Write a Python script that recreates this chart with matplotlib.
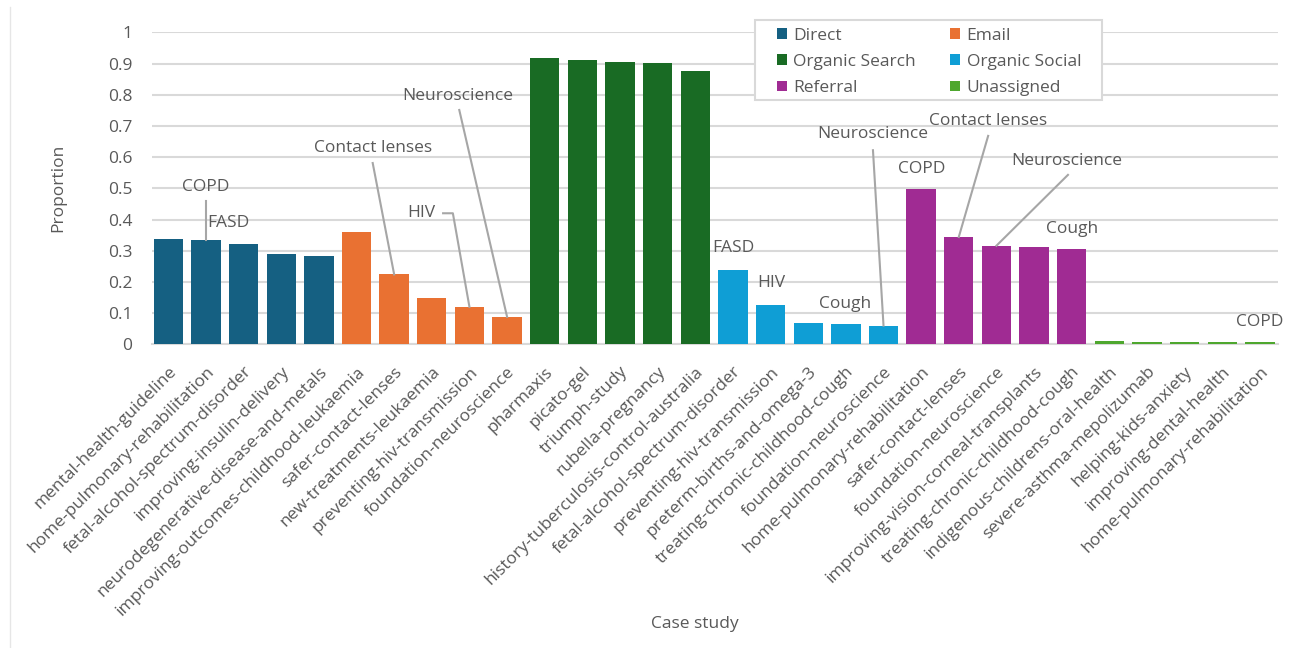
import matplotlib
matplotlib.use("Agg")
import matplotlib.pyplot as plt
from matplotlib.patches import Patch, Rectangle
from matplotlib.lines import Line2D

plt.rcParams['font.family'] = ['Open Sans', 'DejaVu Sans']

channels = ["Direct", "Email", "Organic Search", "Organic Social", "Referral", "Unassigned"]
colors = ["#156082", "#E97132", "#196B24", "#0F9ED5", "#A02B93", "#4EA72E"]

case_studies = [
    "mental-health-guideline", "home-pulmonary-rehabilitation", "fetal-alcohol-spectrum-disorder",
    "improving-insulin-delivery", "neurodegenerative-disease-and-metals",
    "improving-outcomes-childhood-leukaemia", "safer-contact-lenses", "new-treatments-leukaemia",
    "preventing-hiv-transmission", "foundation-neuroscience",
    "pharmaxis", "picato-gel", "triumph-study", "rubella-pregnancy",
    "history-tuberculosis-control-australia",
    "fetal-alcohol-spectrum-disorder", "preventing-hiv-transmission", "preterm-births-and-omega-3",
    "treating-chronic-childhood-cough", "foundation-neuroscience",
    "home-pulmonary-rehabilitation", "safer-contact-lenses", "foundation-neuroscience",
    "improving-vision-corneal-transplants", "treating-chronic-childhood-cough",
    "indigenous-childrens-oral-health", "severe-asthma-mepolizumab", "helping-kids-anxiety",
    "improving-dental-health", "home-pulmonary-rehabilitation",
]

direct = [0.337, 0.333, 0.322, 0.290, 0.284]
email = [0.361, 0.224, 0.147, 0.120, 0.088]
organic_search = [0.918, 0.912, 0.905, 0.901, 0.877]
organic_social = [0.238, 0.126, 0.067, 0.064, 0.060]
referral = [0.499, 0.344, 0.316, 0.313, 0.305]
unassigned = [0.010, 0.007, 0.007, 0.007, 0.007]

series = [direct, email, organic_search, organic_social, referral, unassigned]

# annotations: (bar index, label, text x, text y, leader path or None)
annotations = [
    (1, "COPD", 1.0, 0.505, [(1.0, 0.458)]),
    (2, "FASD", 1.59, 0.389, None),
    (6, "Contact lenses", 5.44, 0.630, [(5.43, 0.581)]),
    (8, "HIV", 6.71, 0.42, [(7.30, 0.42), (7.56, 0.42)]),
    (9, "Neuroscience", 7.70, 0.797, [(7.73, 0.751)]),
    (15, "FASD", 15.0, 0.310, None),
    (16, "HIV", 16.01, 0.198, None),
    (18, "Cough", 17.98, 0.130, None),
    (19, "Neuroscience", 18.72, 0.675, [(18.72, 0.622)]),
    (20, "COPD", 20.02, 0.563, None),
    (21, "Contact lenses", 21.78, 0.717, [(21.78, 0.668)]),
    (22, "Neuroscience", 23.88, 0.588, [(23.9, 0.543)]),
    (24, "Cough", 24.0, 0.371, None),
    (29, "COPD", 29.0, 0.073, None),
]

W, H = 1290, 648
fig = plt.figure(figsize=(W / 100, H / 100), dpi=100)
ax = fig.add_axes([152 / W, 1 - 344.3 / H, (1278 - 152) / W, (344.3 - 32.3) / H])

text_col = "#595959"
grid_col = "#d9d9d9"
fs = 12.5

values = []
bar_colors = []
for vals, c in zip(series, colors):
    values.extend(vals)
    bar_colors.extend([c] * len(vals))
xs = list(range(len(values)))
ax.bar(xs, values, width=0.78, color=bar_colors, zorder=3)

ax.set_xlim(-0.433, 29.48)
ax.set_ylim(0, 1.0)
ax.set_yticks([0, 0.1, 0.2, 0.3, 0.4, 0.5, 0.6, 0.7, 0.8, 0.9, 1.0])
ax.set_yticklabels(["0", "0.1", "0.2", "0.3", "0.4", "0.5", "0.6", "0.7", "0.8", "0.9", "1"])
ax.yaxis.grid(True, color=grid_col, linewidth=1.5, zorder=0)
ax.set_axisbelow(True)
for s in ["top", "right", "left"]:
    ax.spines[s].set_visible(False)
ax.spines["bottom"].set_color(grid_col)
ax.spines["bottom"].set_linewidth(1.5)
ax.tick_params(axis="both", length=0, colors=text_col, labelsize=fs)
ax.tick_params(axis="y", pad=14)
ax.set_xticks(xs)
ax.set_xticklabels(case_studies, rotation=45, ha="right", va="top", rotation_mode="anchor")
ax.tick_params(axis="x", pad=14)

ax.set_ylabel("Proportion", color=text_col, fontsize=fs, labelpad=30)
fig.text(695 / W, 1 - 624 / H, "Case study", color=text_col, fontsize=fs, ha="center", va="center")

for idx, label, tx, ty, path in annotations:
    ax.text(tx, ty, label, color=text_col, fontsize=fs, ha="center", va="center", zorder=5)
    if path:
        pts = path + [(idx, values[idx])]
        ax.plot([p[0] for p in pts], [p[1] for p in pts], color="#a6a6a6", linewidth=1.5, zorder=4,
                clip_on=False)

# legend frame
fig.add_artist(Rectangle((755 / W, 1 - 100 / H), (1102 - 755) / W, 80 / H,
                         transform=fig.transFigure, facecolor="white", edgecolor=grid_col,
                         linewidth=1.5, zorder=10))
handles = [Patch(facecolor=c, edgecolor="none") for c in colors]
order = [0, 2, 4, 1, 3, 5]
leg = fig.legend([handles[i] for i in order], [channels[i] for i in order], ncol=2,
                 loc="upper left", bbox_to_anchor=(777 / W, 1 - 27.5 / H),
                 frameon=False, fontsize=fs, handlelength=0.55, handleheight=0.55,
                 handletextpad=0.38, columnspacing=2.0, labelspacing=0.59,
                 borderpad=0, borderaxespad=0)
leg.set_zorder(11)
for t in leg.get_texts():
    t.set_color(text_col)

fig.add_artist(Line2D([9.5 / W, 9.5 / W], [0, 1 - 7 / H], color="#e6e6e6", linewidth=1))

fig.savefig("out.png", dpi=100, facecolor="white")
